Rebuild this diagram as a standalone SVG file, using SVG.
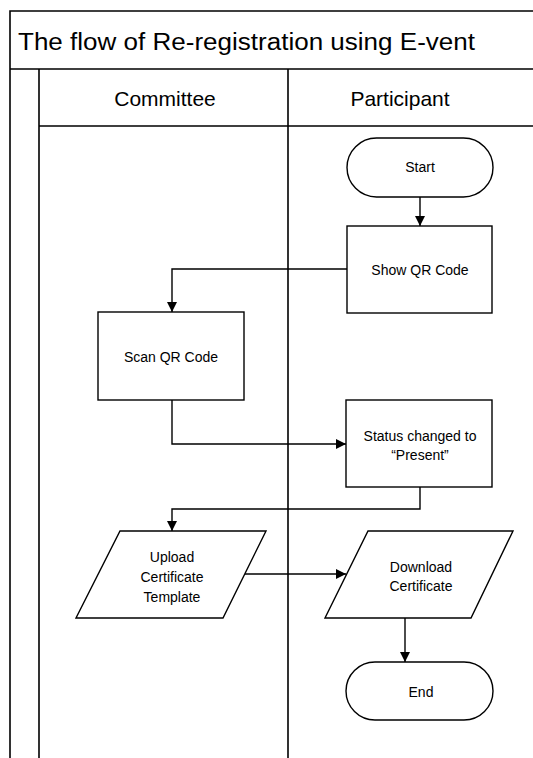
<svg xmlns="http://www.w3.org/2000/svg" width="533" height="758" viewBox="0 0 533 758">
<style>
.ln{fill:none;stroke:#000;stroke-width:1.6}
.nd{fill:#fff;stroke:#000;stroke-width:1.4}
.tx{font-family:"Liberation Sans",Arial,sans-serif;font-size:14px;fill:#000;text-anchor:middle}
.hd{font-family:"Liberation Sans",Arial,sans-serif;font-size:21px;fill:#000;text-anchor:middle}
.ti{font-family:"Liberation Sans",Arial,sans-serif;font-size:23px;fill:#000}
.cn{fill:none;stroke:#000;stroke-width:1.4}
</style>
<defs>
<marker id="ar" viewBox="0 0 10 10" refX="10" refY="5" markerWidth="10" markerHeight="10" markerUnits="userSpaceOnUse" orient="auto">
<path d="M0,0 L10,5 L0,10 z" fill="#000"/>
</marker>
</defs>
<rect width="533" height="758" fill="#fff"/>
<g id="pool">
<path class="ln" d="M10,758 V11 H540 M10,69 H540 M39,69 V758 M288,69 V758 M39,126 H540"/>
<text class="ti" x="18" y="50" textLength="457" lengthAdjust="spacingAndGlyphs">The flow of Re-registration using E-vent</text>
<text class="hd" x="165" y="106">Committee</text>
<text class="hd" x="400" y="106">Participant</text>
</g>
<g id="connectors">
<path class="cn" d="M420,197 V226" marker-end="url(#ar)"/>
<path class="cn" d="M347,269 H172 V312" marker-end="url(#ar)"/>
<path class="cn" d="M172,400 V444 H346" marker-end="url(#ar)"/>
<path class="cn" d="M420,487 V509 H172 V531" marker-end="url(#ar)"/>
<path class="cn" d="M245,574 H346" marker-end="url(#ar)"/>
<path class="cn" d="M405,618 V662" marker-end="url(#ar)"/>
</g>
<g id="start">
<rect class="nd" x="347" y="138" width="146" height="59" rx="29.5"/>
<text class="tx" x="420" y="172">Start</text>
</g>
<g id="show-qr">
<rect class="nd" x="347" y="226" width="145" height="87"/>
<text class="tx" x="420" y="275">Show QR Code</text>
</g>
<g id="scan-qr">
<rect class="nd" x="98" y="312" width="146" height="88"/>
<text class="tx" x="171" y="362">Scan QR Code</text>
</g>
<g id="status">
<rect class="nd" x="346" y="400" width="146" height="87"/>
<text class="tx" x="420" y="441">Status changed to</text>
<text class="tx" x="420" y="460">“Present”</text>
</g>
<g id="upload">
<path class="nd" d="M120,531 H266 L223,618 H76 Z"/>
<text class="tx" x="172" y="562">Upload</text>
<text class="tx" x="172" y="582">Certificate</text>
<text class="tx" x="172" y="602">Template</text>
</g>
<g id="download">
<path class="nd" d="M368,531 H513 L471,618 H325 Z"/>
<text class="tx" x="421" y="572">Download</text>
<text class="tx" x="421" y="591">Certificate</text>
</g>
<g id="end">
<rect class="nd" x="346" y="662" width="147" height="58" rx="29"/>
<text class="tx" x="421" y="697">End</text>
</g>
</svg>
